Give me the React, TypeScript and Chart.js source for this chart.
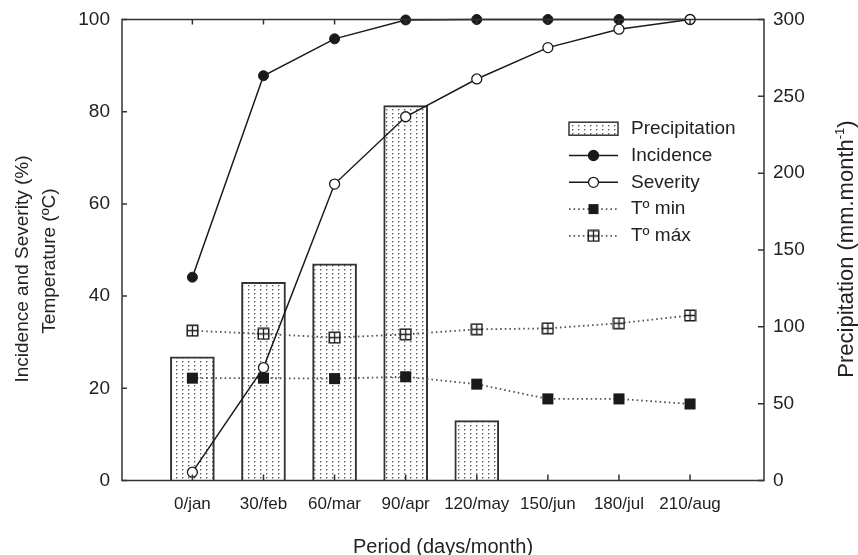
import React, { useEffect, useRef } from 'react';
import { Chart, registerables } from 'chart.js';

Chart.register(...registerables);

const categories = ['0/jan', '30/feb', '60/mar', '90/apr', '120/may', '150/jun', '180/jul', '210/aug'];
const precipitation: (number | null)[] = [80.5, 129, 141, 244, 39, null, null, null];
const incidence = [44.1, 87.8, 95.8, 99.9, 100, 100, 100, 100];
const severity = [1.8, 24.5, 64.3, 78.9, 87.1, 93.9, 97.9, 100];
const tMin = [22.2, 22.2, 22.1, 22.5, 20.9, 17.7, 17.7, 16.6];
const tMax = [32.5, 31.8, 31.0, 31.7, 32.8, 33.0, 34.1, 35.8];

const seriesLabels = ['Precipitation', 'Incidence', 'Severity', 'Tº min', 'Tº máx'];
const xTitle = 'Period (days/month)';
const leftTitleLines = ['Incidence and Severity (%)', 'Temperature (ºC)'];
const rightTitleMain = 'Precipitation (mm.month';
const rightTitleSup = '-1';
const rightTitleEnd = ')';

const FONT = '"Liberation Sans", Arial, Helvetica, sans-serif';
const INK = '#222';
const AXIS = '#333';

function makeDotPattern(): CanvasPattern | string {
  const c = document.createElement('canvas');
  c.width = 6;
  c.height = 4;
  const g = c.getContext('2d');
  if (!g) return '#ddd';
  g.fillStyle = '#ffffff';
  g.fillRect(0, 0, 6, 4);
  g.fillStyle = '#5a5a5a';
  g.fillRect(2, 1, 1.4, 1.4);
  const p = g.createPattern(c, 'repeat');
  return p || '#ddd';
}

function makeCrossSquare(): HTMLCanvasElement {
  const c = document.createElement('canvas');
  c.width = 13;
  c.height = 13;
  const g = c.getContext('2d')!;
  g.fillStyle = '#fff';
  g.fillRect(1, 1, 11, 11);
  g.strokeStyle = '#1e1e1e';
  g.lineWidth = 1.5;
  g.strokeRect(1.25, 1.25, 10.5, 10.5);
  g.lineWidth = 1.3;
  g.beginPath();
  g.moveTo(6.5, 1.5);
  g.lineTo(6.5, 11.5);
  g.moveTo(1.5, 6.5);
  g.lineTo(11.5, 6.5);
  g.stroke();
  return c;
}

const toXY = (arr: (number | null)[]) => arr.map((v, i) => ({ x: i, y: v }));

export default function App() {
  const ref = useRef<HTMLCanvasElement | null>(null);

  useEffect(() => {
    if (!ref.current) return;
    const dots = makeDotPattern();
    const cross = makeCrossSquare();

    const decorPlugin = {
      id: 'decor',
      afterDraw(chart: any) {
        const { ctx, chartArea: a, scales } = chart;
        ctx.save();
        // frame
        ctx.strokeStyle = AXIS;
        ctx.lineWidth = 1.5;
        ctx.strokeRect(a.left, a.top, a.right - a.left, a.bottom - a.top);
        // inward ticks
        ctx.beginPath();
        scales.x.ticks.forEach((t: any) => {
          const px = scales.x.getPixelForValue(t.value);
          ctx.moveTo(px, a.bottom);
          ctx.lineTo(px, a.bottom - 6);
          ctx.moveTo(px, a.top);
          ctx.lineTo(px, a.top + 5);
        });
        scales.y.ticks.forEach((t: any) => {
          const py = scales.y.getPixelForValue(t.value);
          ctx.moveTo(a.left, py);
          ctx.lineTo(a.left + 5, py);
        });
        scales.y1.ticks.forEach((t: any) => {
          const py = scales.y1.getPixelForValue(t.value);
          ctx.moveTo(a.right, py);
          ctx.lineTo(a.right - 6, py);
        });
        ctx.stroke();

        // left title (two lines, rotated)
        ctx.fillStyle = INK;
        ctx.font = `19px ${FONT}`;
        ctx.textAlign = 'center';
        ctx.textBaseline = 'alphabetic';
        const leftPos = [
          [28.3, 269],
          [54.5, 261],
        ];
        leftTitleLines.forEach((line, i) => {
          ctx.save();
          ctx.translate(leftPos[i][0], leftPos[i][1]);
          ctx.rotate(-Math.PI / 2);
          ctx.fillText(line, 0, 0);
          ctx.restore();
        });

        // right title with superscript
        ctx.save();
        ctx.translate(853, 249);
        ctx.rotate(-Math.PI / 2);
        ctx.textAlign = 'left';
        const mainFont = `22px ${FONT}`;
        const supFont = `13px ${FONT}`;
        ctx.font = mainFont;
        const w1 = ctx.measureText(rightTitleMain).width;
        const w3 = ctx.measureText(rightTitleEnd).width;
        ctx.font = supFont;
        const w2 = ctx.measureText(rightTitleSup).width;
        const total = w1 + w2 + w3;
        let x = -total / 2;
        ctx.font = mainFont;
        ctx.fillText(rightTitleMain, x, 0);
        x += w1;
        ctx.font = supFont;
        ctx.fillText(rightTitleSup, x, -9);
        x += w2;
        ctx.font = mainFont;
        ctx.fillText(rightTitleEnd, x, 0);
        ctx.restore();

        // legend
        const rows = [128.7, 155.5, 182.3, 209.1, 235.9];
        const sx0 = 569;
        const sx1 = 618;
        const scx = 593.5;
        const tx = 631;
        ctx.font = `19px ${FONT}`;
        ctx.textAlign = 'left';
        ctx.textBaseline = 'middle';
        chart.data.datasets.forEach((ds: any, i: number) => {
          const y = rows[i];
          if (i === 0) {
            ctx.fillStyle = dots;
            ctx.fillRect(sx0, y - 6.5, sx1 - sx0, 13);
            ctx.strokeStyle = AXIS;
            ctx.lineWidth = 1.5;
            ctx.strokeRect(sx0, y - 6.5, sx1 - sx0, 13);
          } else {
            ctx.save();
            ctx.strokeStyle = ds.borderColor;
            ctx.lineWidth = ds.borderWidth;
            ctx.setLineDash(ds.borderDash || []);
            ctx.beginPath();
            ctx.moveTo(sx0, y);
            ctx.lineTo(sx1, y);
            ctx.stroke();
            ctx.restore();
            ctx.save();
            if (ds.pointStyle === 'circle') {
              ctx.beginPath();
              ctx.arc(scx, y, ds.pointRadius, 0, Math.PI * 2);
              ctx.fillStyle = ds.pointBackgroundColor;
              ctx.fill();
              ctx.strokeStyle = ds.pointBorderColor;
              ctx.lineWidth = 1.3;
              ctx.stroke();
            } else if (ds.pointStyle === 'rect') {
              ctx.fillStyle = ds.pointBackgroundColor;
              ctx.fillRect(scx - 5, y - 5, 10, 10);
            } else {
              ctx.drawImage(ds.pointStyle, scx - 6.5, y - 6.5);
            }
            ctx.restore();
          }
          ctx.fillStyle = INK;
          ctx.fillText(ds.label, tx, y);
        });
        ctx.restore();
      },
    };

    const chart = new Chart(ref.current, {
      type: 'bar',
      data: {
        datasets: [
          {
            type: 'bar',
            label: seriesLabels[0],
            data: toXY(precipitation) as any,
            yAxisID: 'y1',
            backgroundColor: dots as any,
            borderColor: AXIS,
            borderWidth: 2,
            barThickness: 44,
            order: 10,
          },
          {
            type: 'line',
            label: seriesLabels[1],
            data: toXY(incidence) as any,
            yAxisID: 'y',
            borderColor: '#1a1a1a',
            borderWidth: 1.5,
            pointStyle: 'circle',
            pointRadius: 5,
            pointBackgroundColor: '#1a1a1a',
            pointBorderColor: '#1a1a1a',
            pointBorderWidth: 1,
            clip: false,
            order: 2,
          } as any,
          {
            type: 'line',
            label: seriesLabels[2],
            data: toXY(severity) as any,
            yAxisID: 'y',
            borderColor: '#1a1a1a',
            borderWidth: 1.5,
            pointStyle: 'circle',
            pointRadius: 5,
            pointBackgroundColor: '#ffffff',
            pointBorderColor: '#1a1a1a',
            pointBorderWidth: 1.3,
            clip: false,
            order: 1,
          } as any,
          {
            type: 'line',
            label: seriesLabels[3],
            data: toXY(tMin) as any,
            yAxisID: 'y',
            borderColor: '#555',
            borderWidth: 1.8,
            borderDash: [1.6, 3],
            pointStyle: 'rect',
            pointRadius: 7.8,
            pointBackgroundColor: '#1a1a1a',
            pointBorderColor: '#1a1a1a',
            pointBorderWidth: 0,
            clip: false,
            order: 4,
          } as any,
          {
            type: 'line',
            label: seriesLabels[4],
            data: toXY(tMax) as any,
            yAxisID: 'y',
            borderColor: '#555',
            borderWidth: 1.8,
            borderDash: [1.6, 3],
            pointStyle: cross,
            pointRadius: 6,
            clip: false,
            order: 3,
          } as any,
        ],
      },
      options: {
        responsive: false,
        animation: false,
        devicePixelRatio: 1,
        layout: { padding: { left: 0, right: 0, top: 19.5, bottom: 0 } },
        plugins: {
          legend: { display: false },
          tooltip: { enabled: false },
        },
        scales: {
          x: {
            type: 'linear',
            min: -0.99,
            max: 8.04,
            offset: false,
            grid: { display: false, offset: false },
            border: { display: false },
            afterBuildTicks: (scale: any) => {
              scale.ticks = categories.map((_, i) => ({ value: i }));
            },
            afterFit: (scale: any) => {
              scale.height = 74.5;
            },
            ticks: {
              autoSkip: false,
              maxRotation: 0,
              minRotation: 0,
              padding: 6,
              color: INK,
              font: { size: 17, family: FONT },
              callback: (v: any) => categories[v as number] ?? '',
            },
            title: {
              display: true,
              text: xTitle,
              color: INK,
              font: { size: 20, family: FONT, lineHeight: 1 },
              padding: { top: 0, bottom: -2 },
            },
          } as any,
          y: {
            type: 'linear',
            position: 'left',
            min: 0,
            max: 100,
            grid: { display: false },
            border: { display: false },
            afterFit: (scale: any) => {
              scale.width = 122;
            },
            ticks: {
              stepSize: 20,
              padding: 4,
              color: INK,
              font: { size: 19, family: FONT },
            },
          },
          y1: {
            type: 'linear',
            position: 'right',
            min: 0,
            max: 300,
            grid: { display: false },
            border: { display: false },
            afterFit: (scale: any) => {
              scale.width = 94;
            },
            ticks: {
              stepSize: 50,
              padding: 1,
              color: INK,
              font: { size: 19, family: FONT },
            },
          },
        },
      },
      plugins: [decorPlugin],
    });

    return () => chart.destroy();
  }, []);

  return (
    <div style={{ position: 'absolute', left: 0, top: 0, width: 858, height: 555, background: '#fff' }}>
      <canvas ref={ref} width={858} height={555} style={{ display: 'block', width: 858, height: 555 }} />
    </div>
  );
}
